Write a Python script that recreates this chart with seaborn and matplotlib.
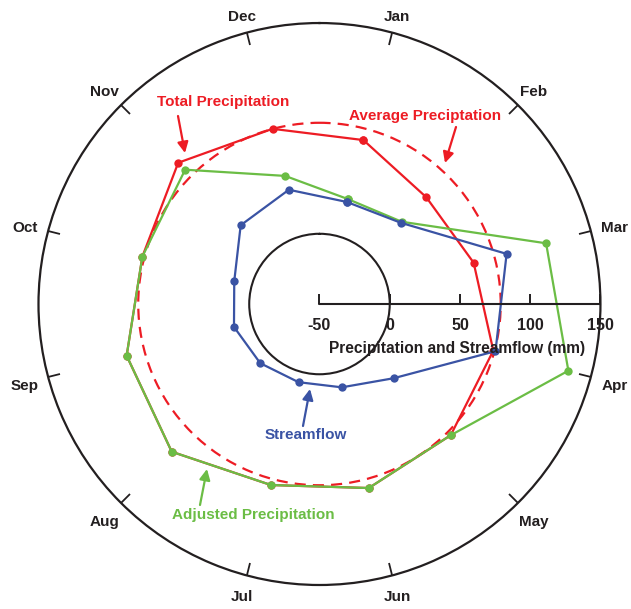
import numpy as np
import pandas as pd
import matplotlib.pyplot as plt
import seaborn as sns

# monthly values (mm)
months = ['Jan', 'Feb', 'Mar', 'Apr', 'May', 'Jun',
          'Jul', 'Aug', 'Sep', 'Oct', 'Nov', 'Dec']
total_precip = [70.8, 57.5, 63.6, 78.1, 82.1, 85.6, 83.4, 98.7, 92.1, 80.5, 92.2, 79.1]
adjusted_precip = [27.4, 32.8, 117.0, 133.4, 82.1, 85.6, 83.4, 98.7, 92.1, 80.5, 85.2, 44.4]
streamflow = [25.2, 31.8, 87.9, 79.7, 24.7, 11.4, 7.6, 9.6, 13.0, 12.8, 29.3, 34.2]
avg_precip = 79.0
r_ticks = [-50, 0, 50, 100, 150]

RED = '#ED1C24'
GREEN = '#6BBD45'
BLUE = '#3A53A4'
INK = '#231F20'

sns.set_style('white')
plt.rcParams['font.family'] = ['Liberation Sans', 'DejaVu Sans']

fig = plt.figure(figsize=(6.31, 6.09), dpi=100)
ax = fig.add_axes([0.0610, 0.0394, 0.8906, 0.9228], projection='polar')
ax.set_theta_zero_location('N')
ax.set_theta_direction(-1)

month_theta = np.deg2rad(15 + 30 * np.arange(12))
theta_closed = np.append(month_theta, month_theta[0] + 2 * np.pi)


def closed(vals):
    return np.append(vals, vals[0])


series_names = ['Total Precipitation', 'Adjusted Precipitation', 'Streamflow']
df = pd.DataFrame({
    'theta': np.tile(theta_closed, 3),
    'value': np.concatenate([closed(total_precip), closed(adjusted_precip), closed(streamflow)]),
    'series': np.repeat(series_names, len(theta_closed)),
})

# average precipitation and the zero circle
ax.axhline(avg_precip, color=RED, lw=1.6, ls=(0, (5, 3.2)), zorder=2)
ax.axhline(0, color=INK, lw=1.5, zorder=2)

sns.lineplot(data=df, x='theta', y='value', hue='series', hue_order=series_names,
             palette=[RED, GREEN, BLUE], sort=False, estimator=None, legend=False,
             marker='o', markersize=6, markeredgewidth=0, linewidth=1.6, ax=ax, zorder=3)
ax.set_xlabel('')
ax.set_ylabel('')

ax.set_ylim(-50, 150)
ax.set_yticks([])
ax.grid(False)
ax.set_xticks(month_theta)
ax.set_xticklabels([])
ax.tick_params(axis='x', which='major', bottom=False, top=True, direction='in',
               length=9, width=1.3, color=INK)
ax.spines['polar'].set_linewidth(1.6)
ax.spines['polar'].set_color(INK)

# month labels just outside the frame (wider words sit a bit further out on the sides)
for th, m in zip(month_theta, months):
    gap_px = 17.5 + 7 * abs(np.sin(th))
    ax.annotate(m, xy=(th, 150 + gap_px / 1.405), xytext=(0, -3), textcoords='offset pixels',
                ha='center', va='center', fontsize=11, fontweight='bold', color=INK,
                annotation_clip=False)

# radial axis drawn along the east direction
ax.plot([np.pi / 2, np.pi / 2], [-50, 150], color=INK, lw=1.5, clip_on=False, zorder=4)
ax.plot([np.pi / 2] * len(r_ticks), r_ticks, ls='', marker=2, ms=7, mew=1.4,
        color=INK, clip_on=False, zorder=4)
for r in r_ticks:
    ax.annotate(str(r), xy=(np.pi / 2, r), xytext=(0, -10), textcoords='offset points',
                ha='center', va='top', fontsize=11.5, fontweight='bold', color=INK, zorder=5)
ax.annotate('Precipitation and Streamflow (mm)', xy=(457.5, 609 - 349), xycoords='figure pixels',
            ha='center', va='center', fontsize=11.2, fontweight='bold', color=INK)

# series callouts
labels = [
    ('Total Precipitation', RED, (223, 102), (178, 116), (185, 153)),
    ('Average Preciptation', RED, (425, 116), (456, 127), (445, 163)),
    ('Streamflow', BLUE, (306, 435), (303, 426), (310, 389)),
    ('Adjusted Precipitation', GREEN, (253, 515), (200, 505), (207, 469)),
]
for text, col, pos, start, tip in labels:
    ax.annotate(text, xy=(pos[0], 609 - pos[1]), xycoords='figure pixels',
                ha='center', va='center', fontsize=11, fontweight='bold', color=col)
    ax.annotate('', xy=(tip[0], 609 - tip[1]), xycoords='figure pixels',
                xytext=(start[0], 609 - start[1]), textcoords='figure pixels',
                arrowprops=dict(arrowstyle='-|>', color=col, lw=1.6, mutation_scale=16,
                                shrinkA=0, shrinkB=0))

fig.savefig('out.png', dpi=100)
